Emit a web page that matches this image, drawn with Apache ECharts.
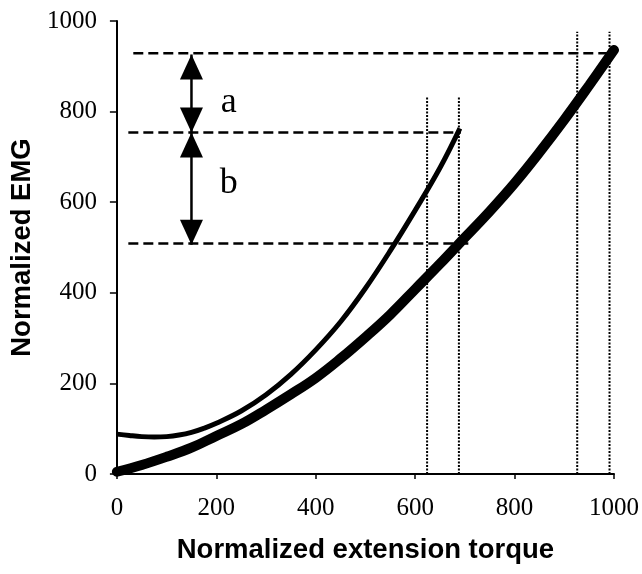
<!DOCTYPE html>
<html>
<head>
<meta charset="utf-8">
<script src="https://cdn.jsdelivr.net/npm/echarts@6/dist/echarts.min.js"></script>
<style>
html,body{margin:0;padding:0;background:#fff;}
#chart{width:642px;height:574px;}
</style>
</head>
<body>
<div id="chart"></div>
<script>
// Thick curve (normal)
const thickTorque = [0,50,100,150,200,250,300,350,400,450,500,550,600,650,700,750,800,850,900,950,1000];
const thickEMG    = [5,20,38,58,84,110,142,176,212,255,302,352,408,464,522,580,642,710,782,858,936];
// Thin curve
const thinTorque = [0,25,50,75,100,125,150,175,200,250,300,350,400,450,500,550,600,650,690];
const thinEMG    = [88,85,82.5,81.5,82.5,86,92,101,112,139,175,220,274,336,410,493,582,676,763];
// Dashed horizontal reference lines
const dashLevels = [929, 754, 509];
const dashStarts = [33, 23, 23];
const dashEnds   = [1000, 692, 715];
// Dotted vertical reference lines
const dottedX   = [624, 688, 926, 991];
const dottedTop = [832, 832, 976, 976];
// Arrows
const arrowX = 150;
const arrowTop = 926, arrowBottom = 506;
const arrowUpTips = [926, 754];
const arrowDownTips = [754, 506];
// Letters
const letterNames = ['a', 'b'];
const letterX = [225, 225];
const letterY = [821, 642];
// Ticks
const xTicks = [0, 200, 400, 600, 800, 1000];
const yTicks = [0, 200, 400, 600, 800, 1000];

const serif = 'Liberation Serif';
const sans = 'Liberation Sans';

const series = [];
series.push({
  type: 'line', smooth: 0.4, symbol: 'none', silent: true,
  data: thickTorque.map((x, i) => [x, thickEMG[i]]),
  lineStyle: {color: '#000', width: 10, cap: 'round', opacity: 1}
});
series.push({
  type: 'line', smooth: 0.4, symbol: 'none', silent: true,
  data: thinTorque.map((x, i) => [x, thinEMG[i]]),
  lineStyle: {color: '#000', width: 5, opacity: 1}
});
dashLevels.forEach((y, i) => {
  series.push({
    type: 'line', symbol: 'none', silent: true,
    data: [[dashStarts[i], y], [dashEnds[i], y]],
    lineStyle: {color: '#000', width: 2.5, type: [10, 5]}
  });
});
dottedX.forEach((x, i) => {
  series.push({
    type: 'line', symbol: 'none', silent: true,
    data: [[x, 0], [x, dottedTop[i]]],
    lineStyle: {color: '#000', width: 2, type: [2, 1.5]}
  });
});
series.push({
  type: 'line', symbol: 'none', silent: true,
  data: [[arrowX, arrowTop], [arrowX, arrowBottom]],
  lineStyle: {color: '#000', width: 2.5}
});
series.push({
  type: 'scatter', silent: true, symbol: 'triangle', symbolSize: [23, 25],
  symbolOffset: [0, 12.5],
  itemStyle: {color: '#000', opacity: 1},
  data: arrowUpTips.map(y => [arrowX, y])
});
series.push({
  type: 'scatter', silent: true, symbol: 'triangle', symbolSize: [23, 25],
  symbolRotate: 180, symbolOffset: [0, -12.5],
  itemStyle: {color: '#000', opacity: 1},
  data: arrowDownTips.map(y => [arrowX, y])
});
series.push({
  type: 'scatter', silent: true, symbolSize: 1,
  itemStyle: {color: 'rgba(0,0,0,0)', opacity: 1},
  label: {show: true, position: 'inside', formatter: p => p.name,
          color: '#000', fontFamily: serif, fontSize: 36, opacity: 1},
  data: letterNames.map((n, i) => ({name: n, value: [letterX[i], letterY[i]]}))
});

const chart = echarts.init(document.getElementById('chart'));
chart.setOption({
  animation: false,
  backgroundColor: '#fff',
  grid: {left: 114, right: 28, top: 21, bottom: 100, containLabel: false},
  xAxis: {
    type: 'value', min: 0, max: 1000, interval: 200,
    name: 'Normalized extension torque', nameLocation: 'middle', nameGap: 62,
    nameTextStyle: {fontFamily: sans, fontWeight: 'bold', fontSize: 27.5, color: '#000'},
    axisLine: {show: true, lineStyle: {color: '#000', width: 2}},
    axisTick: {show: true, length: 5, lineStyle: {color: '#000', width: 1.5}},
    axisLabel: {color: '#000', fontFamily: serif, fontSize: 25, margin: 22,
                formatter: v => xTicks.includes(v) ? String(v) : ''},
    splitLine: {show: false}
  },
  yAxis: {
    type: 'value', min: 0, max: 1000, interval: 200,
    name: 'Normalized EMG', nameLocation: 'middle', nameGap: 78, nameRotate: 90,
    nameTextStyle: {fontFamily: sans, fontWeight: 'bold', fontSize: 27.5, color: '#000'},
    axisLine: {show: true, lineStyle: {color: '#000', width: 2}},
    axisTick: {show: true, length: 7, lineStyle: {color: '#000', width: 1.5}},
    axisLabel: {color: '#000', fontFamily: serif, fontSize: 25, margin: 20,
                formatter: v => yTicks.includes(v) ? String(v) : ''},
    splitLine: {show: false}
  },
  series: series
});
</script>
</body>
</html>
